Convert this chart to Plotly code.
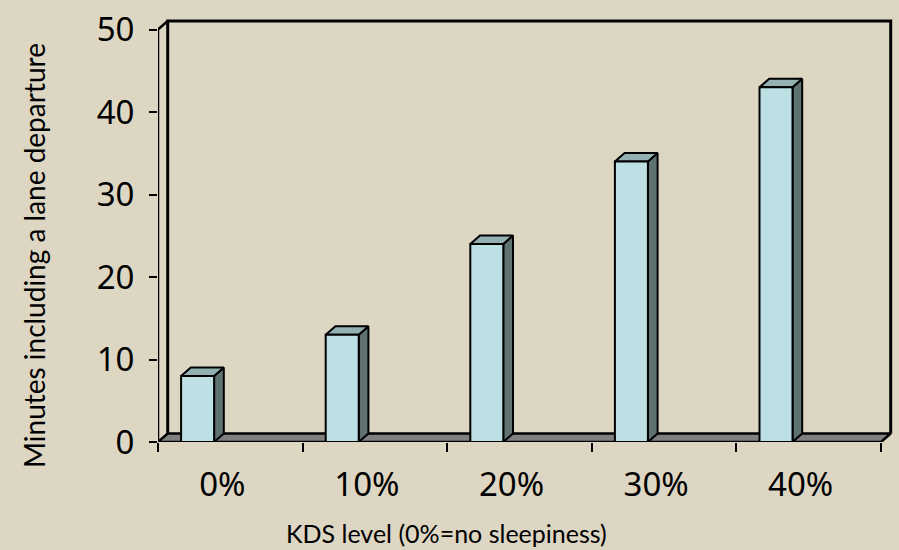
import plotly.graph_objects as go

# ---------------- data ----------------
categories = ["0%", "10%", "20%", "30%", "40%"]
minutes = [8, 13, 24, 34, 43]
y_ticks = [0, 10, 20, 30, 40, 50]
x_title = "KDS level (0%=no sleepiness)"
y_title = "Minutes including a lane departure"

# ---------------- style ----------------
BG = "#DDD6C3"
FRONT = "#BCE0E3"
TOP = "#93B0B3"
SIDE = "#5E7272"
FLOOR = "#808080"
EDGE = "black"

W, H = 899, 550
ML, MR, MT, MB = 158, 0, 0, 108
PX_PER_CAT = 144.6
PX_PER_VAL = 8.25

n = len(categories)
YMAX = y_ticks[-1]
DX = 9.7 / PX_PER_CAT      # depth offset (category units)
DY = 8.5 / PX_PER_VAL      # depth offset (value units)
BAR_W = 33 / PX_PER_CAT
BAR_SHIFT = -32.7 / PX_PER_CAT
LABEL_SHIFT = -8 / PX_PER_CAT

plot_w = W - ML - MR
plot_h = H - MT - MB
x_range = [-0.5, -0.5 + plot_w / PX_PER_CAT]
y_range = [0, plot_h / PX_PER_VAL]

fig = go.Figure()


def poly(xs, ys, fill, lw=2):
    fig.add_trace(go.Scatter(
        x=xs + [xs[0]], y=ys + [ys[0]], mode="lines",
        fill="toself" if fill else None, fillcolor=fill,
        line=dict(color=EDGE, width=lw), hoverinfo="skip", showlegend=False))


def line(xs, ys, lw=2):
    fig.add_trace(go.Scatter(
        x=xs, y=ys, mode="lines", line=dict(color=EDGE, width=lw),
        hoverinfo="skip", showlegend=False))


xl, xr = -0.5, n - 0.5
# back wall
line([xl + DX, xl + DX, xr + DX, xr + DX], [DY, YMAX + DY, YMAX + DY, DY], lw=3)
# floor
poly([xl, xr, xr + DX, xl + DX], [0, 0, DY, DY], FLOOR, lw=2.5)
# front-left edge
line([xl, xl, xl + DX], [0, YMAX, YMAX + DY], lw=2.5)

# bars
for i, v in enumerate(minutes):
    xc = i + BAR_SHIFT
    x0, x1 = xc - BAR_W / 2, xc + BAR_W / 2
    poly([x1, x1 + DX, x1 + DX, x1], [0, DY, v + DY, v], SIDE)
    poly([x0, x0 + DX, x1 + DX, x1], [v, v + DY, v + DY, v], TOP)
    poly([x0, x1, x1, x0], [0, 0, v, v], FRONT)

tick_font = dict(family="Noto Sans", size=33, color="black")
ytitle_font = dict(family="Lato", size=28, color="black")
xtitle_font = dict(family="Lato", size=25, color="black")

fig.update_layout(
    width=W, height=H,
    margin=dict(l=ML, r=MR, t=MT, b=MB, pad=0),
    paper_bgcolor=BG, plot_bgcolor=BG,
    showlegend=False,
    xaxis=dict(
        range=x_range, showgrid=False, zeroline=False, showline=False,
        tickmode="array", tickvals=[i + LABEL_SHIFT for i in range(n)],
        ticktext=categories, ticks="", tickfont=tick_font,
        ticklabelstandoff=20, automargin=False, fixedrange=True,
        minor=dict(tickmode="array", tickvals=[k - 0.5 for k in range(n + 1)],
                   ticks="outside", ticklen=9, tickwidth=2, tickcolor=EDGE,
                   showgrid=False),
    ),
    yaxis=dict(
        range=y_range, showgrid=False, zeroline=False, showline=False,
        tickmode="array", tickvals=y_ticks,
        ticks="outside", ticklen=8, tickwidth=2, tickcolor=EDGE,
        tickfont=tick_font, ticklabelstandoff=8, automargin=False,
        fixedrange=True,
    ),
    annotations=[
        dict(text=y_title, xref="paper", yref="paper",
             x=(34 - ML) / plot_w, y=(plot_h - 256 + MT) / plot_h,
             textangle=-90, showarrow=False, xanchor="center",
             yanchor="middle", font=ytitle_font),
        dict(text=x_title, xref="paper", yref="paper",
             x=(446 - ML) / plot_w, y=(plot_h - 533 + MT) / plot_h,
             showarrow=False, xanchor="center", yanchor="middle",
             font=xtitle_font),
    ],
)

fig.write_html("out.html")
